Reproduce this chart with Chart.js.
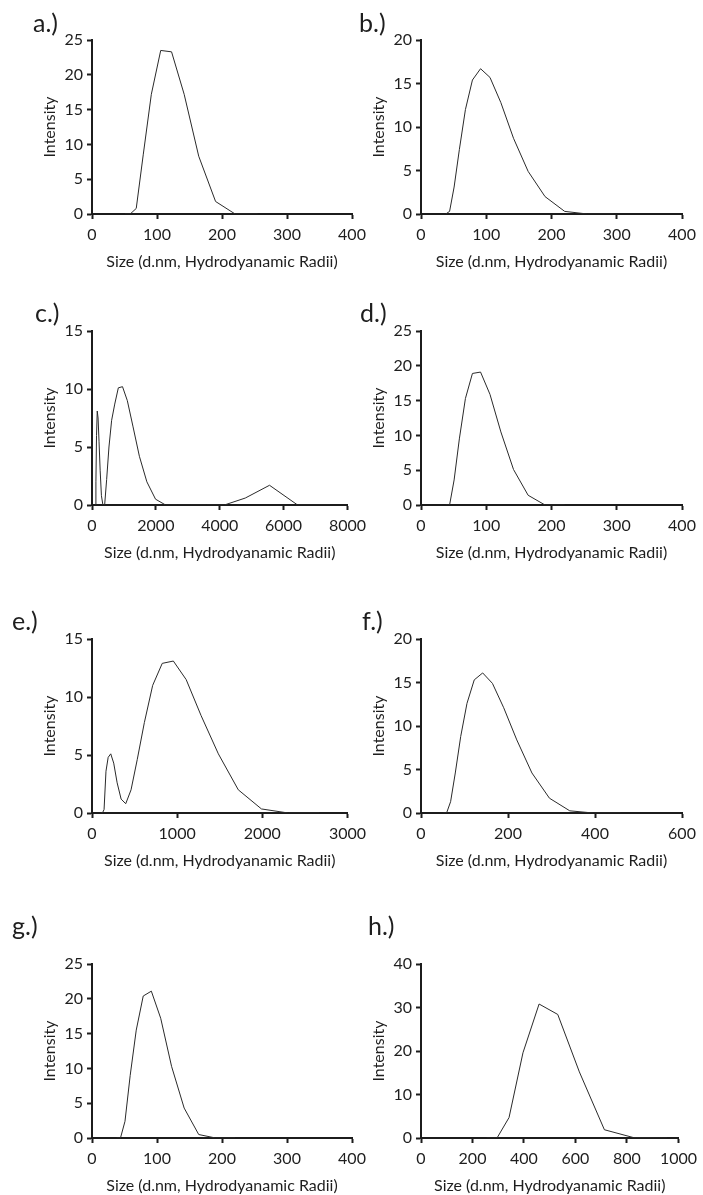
<!DOCTYPE html>
<html lang="en">
<head>
    <meta charset="UTF-8">
    <title>DLS size distributions</title>
    <script src="https://cdn.jsdelivr.net/npm/chart.js"></script>
    <style>
        body {
            margin: 0;
            padding: 0;
            background-color: #fff;
            font-family: Lato, "Open Sans", sans-serif;
        }
        #page {
            position: relative;
            width: 703px;
            height: 1195px;
            overflow: hidden;
        }
        canvas {
            position: absolute;
        }
        .panel-label {
            position: absolute;
            font-size: 25px;
            line-height: 1;
            color: #1e1e1e;
        }
    </style>
</head>
<body>
<div id="page"></div>

<script>
    // Intensity distributions, read per size bin (d.nm)
    const sizesA = [50.75, 58.77, 68.06, 78.82, 91.28, 105.7, 122.4, 141.8, 164.2, 190.1, 220.2, 255.0];
    const intensityA = [0, 0, 0.8, 8.5, 17.2, 23.5, 23.3, 17.2, 8.3, 1.8, 0, 0];

    const sizesB = [37.84, 43.82, 50.75, 58.77, 68.06, 78.82, 91.28, 105.7, 122.4, 141.8, 164.2, 190.1, 220.2, 255.0, 295.3];
    const intensityB = [0, 0.3, 3.1, 7.4, 12.0, 15.4, 16.7, 15.7, 12.8, 8.7, 4.9, 2.0, 0.3, 0, 0];

    const sizesC = [105.7, 122.4, 141.8, 164.2, 190.1, 220.2, 255.0, 295.3, 342.0, 396.1, 458.7, 531.2, 615.1,
        712.4, 825.0, 955.4, 1106, 1281, 1484, 1718, 1990, 2305, 2669, 3091, 3580, 4145, 4801, 5560, 6439, 7456];
    const intensityC = [0, 2.0, 6.0, 8.1, 7.5, 5.5, 3.0, 0.8, 0, 0, 2.2, 5.0, 7.3,
        8.7, 10.1, 10.2, 9.0, 6.8, 4.2, 2.0, 0.5, 0, 0, 0, 0, 0, 0.6, 1.7, 0, 0];

    const sizesD = [37.84, 43.82, 50.75, 58.77, 68.06, 78.82, 91.28, 105.7, 122.4, 141.8, 164.2, 190.1, 220.2];
    const intensityD = [0, 0, 3.6, 9.5, 15.3, 18.9, 19.1, 15.9, 10.5, 5.1, 1.4, 0, 0];

    const sizesE = [105.7, 122.4, 141.8, 164.2, 190.1, 220.2, 255.0, 295.3, 342.0, 396.1, 458.7, 531.2, 615.1,
        712.4, 825.0, 955.4, 1106, 1281, 1484, 1718, 1990, 2305, 2669];
    const intensityE = [0, 0, 0.3, 3.6, 4.8, 5.1, 4.3, 2.6, 1.2, 0.8, 2.0, 4.6, 7.8,
        11.0, 12.9, 13.1, 11.5, 8.4, 5.1, 2.0, 0.35, 0, 0];

    const sizesF = [50.75, 58.77, 68.06, 78.82, 91.28, 105.7, 122.4, 141.8, 164.2, 190.1, 220.2, 255.0, 295.3, 342.0, 396.1, 458.7];
    const intensityF = [0, 0, 1.3, 4.6, 8.8, 12.6, 15.3, 16.1, 14.9, 12.1, 8.4, 4.6, 1.7, 0.25, 0, 0];

    const sizesG = [37.84, 43.82, 50.75, 58.77, 68.06, 78.82, 91.28, 105.7, 122.4, 141.8, 164.2, 190.1, 220.2];
    const intensityG = [0, 0, 2.4, 9.0, 15.5, 20.4, 21.1, 17.2, 10.3, 4.3, 0.5, 0, 0];

    const sizesH = [255.0, 295.3, 342.0, 396.1, 458.7, 531.2, 615.1, 712.4, 825.0, 955.4];
    const intensityH = [0, 0, 4.7, 19.6, 30.8, 28.4, 15.2, 1.9, 0.1, 0];

    // axis ranges: [xMax, xStep, yMax, yStep]
    const rangeA = [400, 100, 25, 5];
    const rangeB = [400, 100, 20, 5];
    const rangeC = [8000, 2000, 15, 5];
    const rangeD = [400, 100, 25, 5];
    const rangeE = [3000, 1000, 15, 5];
    const rangeF = [600, 200, 20, 5];
    const rangeG = [400, 100, 25, 5];
    const rangeH = [1000, 200, 40, 10];

    const panelLabels = ['a.)', 'b.)', 'c.)', 'd.)', 'e.)', 'f.)', 'g.)', 'h.)'];

    const FONT = 'Lato, "Open Sans", sans-serif';
    const FONT_SIZE = 16;
    const INK = '#1c1c1c';

    // plot-area placement for each column / row
    const columns = [
        { canvasLeft: 0, plotLeft: 92, plotRight: 352, width: 372 },
        { canvasLeft: 352, plotLeft: 421, plotRight: 682, width: 351 }
    ];
    const rowTops = [40, 331, 639, 964];
    const PLOT_H = 174;
    const TOP_PAD = 14;
    const X_AXIS_H = 60;

    // label positions [left, centre y]
    const labelPos = [[33, 23], [359, 23], [35, 313], [360, 313], [12, 621], [362, 621], [12, 926], [368, 926]];

    const panels = [
        [sizesA, intensityA, rangeA], [sizesB, intensityB, rangeB],
        [sizesC, intensityC, rangeC], [sizesD, intensityD, rangeD],
        [sizesE, intensityE, rangeE], [sizesF, intensityF, rangeF],
        [sizesG, intensityG, rangeG], [sizesH, intensityH, rangeH]
    ];

    const page = document.getElementById('page');

    function crearPanel(index) {
        const [sizes, values, range] = panels[index];
        const col = columns[index % 2];
        const rowTop = rowTops[Math.floor(index / 2)];
        const yAxisW = col.plotLeft - col.canvasLeft;
        const lineH = FONT_SIZE * 1.2;

        const canvas = document.createElement('canvas');
        canvas.width = col.width;
        canvas.height = TOP_PAD + PLOT_H + X_AXIS_H;
        canvas.style.left = col.canvasLeft + 'px';
        canvas.style.top = (rowTop - TOP_PAD) + 'px';
        page.appendChild(canvas);

        const label = document.createElement('div');
        label.className = 'panel-label';
        label.textContent = panelLabels[index];
        label.style.left = labelPos[index][0] + 'px';
        label.style.top = (labelPos[index][1] - 13) + 'px';
        page.appendChild(label);

        const points = sizes.map((s, i) => ({ x: s, y: values[i] }));

        new Chart(canvas.getContext('2d'), {
            type: 'scatter',
            data: {
                datasets: [{
                    data: points,
                    showLine: true,
                    borderColor: '#2a2a2a',
                    borderWidth: 1,
                    pointRadius: 0,
                    tension: 0
                }]
            },
            options: {
                responsive: false,
                animation: false,
                devicePixelRatio: 1,
                layout: {
                    autoPadding: false,
                    padding: { left: 0, top: TOP_PAD, right: col.width - (col.plotRight - col.canvasLeft), bottom: 0 }
                },
                plugins: { legend: { display: false }, tooltip: { enabled: false } },
                scales: {
                    x: {
                        type: 'linear',
                        min: 0,
                        max: range[0],
                        afterFit: (scale) => { scale.height = X_AXIS_H; },
                        border: { color: INK, width: 2 },
                        grid: { drawOnChartArea: false, drawTicks: true, tickLength: 5, tickColor: INK, tickWidth: 2 },
                        ticks: {
                            stepSize: range[1],
                            padding: 6,
                            color: '#1e1e1e',
                            font: { family: FONT, size: FONT_SIZE },
                            maxRotation: 0,
                            callback: (v) => String(v)
                        },
                        title: {
                            display: true,
                            text: 'Size (d.nm, Hydrodyanamic Radii)',
                            color: '#1e1e1e',
                            font: { family: FONT, size: FONT_SIZE },
                            padding: { top: 0, bottom: X_AXIS_H - 47.7 - lineH / 2 }
                        }
                    },
                    y: {
                        min: 0,
                        max: range[2],
                        afterFit: (scale) => { scale.width = yAxisW; },
                        border: { color: INK, width: 2 },
                        grid: { drawOnChartArea: false, drawTicks: true, tickLength: 5, tickColor: INK, tickWidth: 2 },
                        ticks: {
                            stepSize: range[3],
                            padding: 4,
                            color: '#1e1e1e',
                            font: { family: FONT, size: FONT_SIZE },
                            callback: (v) => String(v)
                        },
                        title: {
                            display: true,
                            text: 'Intensity',
                            color: '#1e1e1e',
                            font: { family: FONT, size: FONT_SIZE },
                            padding: { top: yAxisW - 42 - lineH / 2, bottom: 0 }
                        }
                    }
                }
            }
        });
    }

    for (let i = 0; i < panels.length; i++) {
        crearPanel(i);
    }
</script>
</body>
</html>
